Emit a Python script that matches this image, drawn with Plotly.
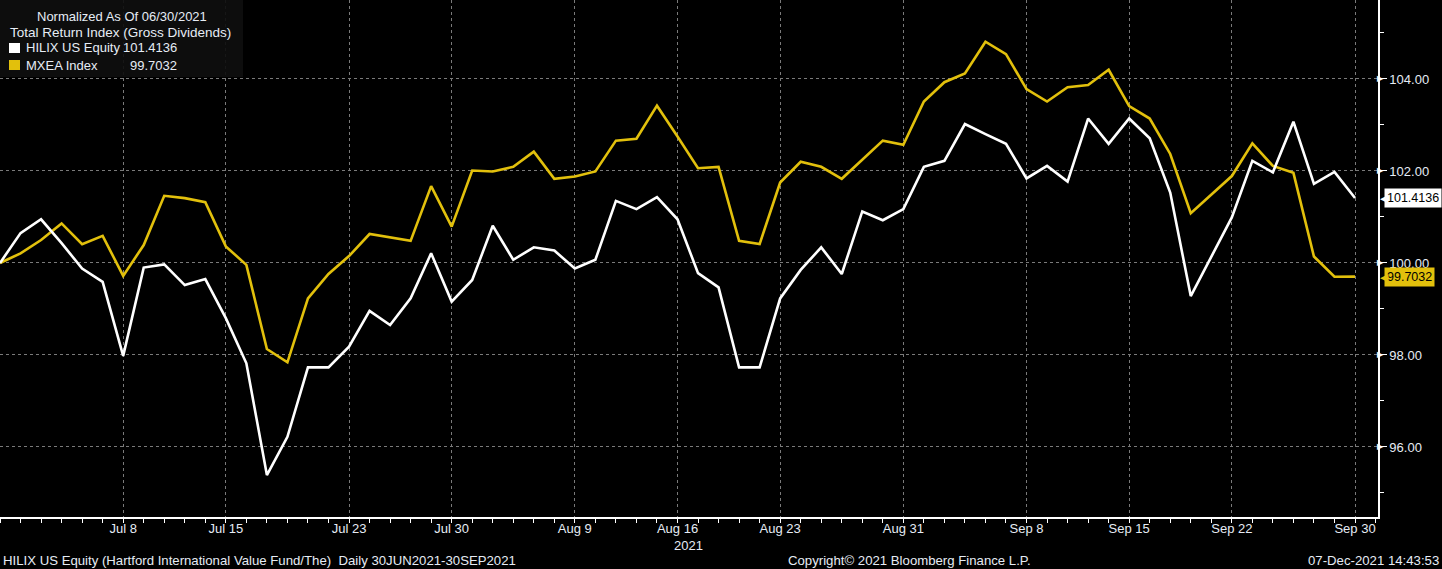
import pandas as pd
import plotly.graph_objects as go

# ---------------- data ----------------
dates = [d.strftime("%Y-%m-%d") for d in pd.bdate_range("2021-06-30", "2021-09-30")]

hilix = [100.00, 100.65, 100.95, 100.43, 99.88, 99.59, 97.98, 99.90, 99.97, 99.52,
         99.65, 98.80, 97.82, 95.39, 96.22, 97.73, 97.73, 98.18, 98.96, 98.65,
         99.23, 100.21, 99.16, 99.63, 100.81, 100.07, 100.34, 100.27, 99.88, 100.07,
         101.35, 101.17, 101.43, 100.95, 99.78, 99.47, 97.73, 97.73, 99.23, 99.85,
         100.34, 99.76, 101.12, 100.93, 101.17, 102.09, 102.22, 103.02, 102.80, 102.59,
         101.84, 102.11, 101.77, 103.14, 102.59, 103.14, 102.71, 101.53, 99.28, 100.14,
         100.99, 102.22, 101.97, 103.07, 101.72, 101.98, 101.4136]

mxea = [100.00, 100.21, 100.50, 100.86, 100.41, 100.59, 99.72, 100.39, 101.46, 101.41,
        101.32, 100.36, 99.96, 98.13, 97.84, 99.23, 99.76, 100.15, 100.63, 100.56,
        100.48, 101.67, 100.79, 102.01, 101.99, 102.09, 102.42, 101.83, 101.88, 101.99,
        102.66, 102.70, 103.42, 102.75, 102.06, 102.09, 100.48, 100.41, 101.75, 102.20,
        102.09, 101.83, 102.25, 102.66, 102.57, 103.51, 103.93, 104.12, 104.81, 104.54,
        103.78, 103.51, 103.82, 103.87, 104.20, 103.41, 103.14, 102.37, 101.08, 101.48,
        101.89, 102.60, 102.11, 101.96, 100.14, 99.70, 99.7032]

tick_dates = ["2021-07-08", "2021-07-15", "2021-07-23", "2021-07-30", "2021-08-09",
              "2021-08-16", "2021-08-23", "2021-08-31", "2021-09-08", "2021-09-15",
              "2021-09-22", "2021-09-30"]
tick_labels = ["Jul 8", "Jul 15", "Jul 23", "Jul 30", "Aug 9", "Aug 16", "Aug 23",
               "Aug 31", "Sep 8", "Sep 15", "Sep 22", "Sep 30"]
y_ticks = [96, 98, 100, 102, 104]

names = ["HILIX US Equity", "MXEA Index"]
last_labels = ["101.4136", "99.7032"]
colors = ["#ffffff", "#e2c00c"]

# ---------------- figure ----------------
W, H = 1442, 569
ML, MR, MT, MB = 0, 64, 0, 52
PW, PH = W - ML - MR, H - MT - MB

xpos = list(range(len(dates)))
tickvals = [dates.index(d) for d in tick_dates]

FONT = "Liberation Sans"
TXT = "#e6ecf5"

fig = go.Figure()
fig.add_trace(go.Scatter(x=xpos, y=mxea, mode="lines", name=names[1],
                         line=dict(color=colors[1], width=2.6), hoverinfo="skip"))
fig.add_trace(go.Scatter(x=xpos, y=hilix, mode="lines", name=names[0],
                         line=dict(color=colors[0], width=2.6), hoverinfo="skip"))

ann = []
# right axis triangles at major ticks
for v in y_ticks:
    ann.append(dict(xref="paper", yref="y", x=1, y=v, text="\u25B6", showarrow=False,
                    xanchor="left", xshift=-3, font=dict(color="#ffffff", size=8, family=FONT)))

# last-value labels
for val, lab, col in [(hilix[-1], last_labels[0], colors[0]), (mxea[-1], last_labels[1], colors[1])]:
    ann.append(dict(xref="paper", yref="y", x=1, y=val, text=lab, showarrow=False,
                    xanchor="left", xshift=6, bgcolor=col, borderpad=2,
                    font=dict(color="#000000", size=12.5, family=FONT)))
    ann.append(dict(xref="paper", yref="y", x=1, y=val, text="\u25C0", showarrow=False,
                    xanchor="left", xshift=0, font=dict(color=col, size=11, family=FONT)))

def px(xp):
    return (xp - ML) / PW

def py(yp):
    return 1 - (yp - MT) / PH

LF = 13
# legend box texts
ann.append(dict(xref="paper", yref="paper", x=px(122), y=py(16), text="Normalized As Of 06/30/2021",
                showarrow=False, xanchor="center", yanchor="middle",
                font=dict(color=TXT, size=LF, family=FONT)))
ann.append(dict(xref="paper", yref="paper", x=px(8), y=py(33), text="Total Return Index (Gross Dividends)",
                showarrow=False, xanchor="left", yanchor="middle",
                font=dict(color=TXT, size=13.5, family=FONT)))
for i, (nm, lab) in enumerate(zip(names, last_labels)):
    yy = 48 + i * 17
    ann.append(dict(xref="paper", yref="paper", x=px(24), y=py(yy), text=nm,
                    showarrow=False, xanchor="left", yanchor="middle",
                    font=dict(color=TXT, size=LF, family=FONT)))
    ann.append(dict(xref="paper", yref="paper", x=px(179), y=py(yy), text=lab,
                    showarrow=False, xanchor="right", yanchor="middle",
                    font=dict(color=TXT, size=LF, family=FONT)))

# year label
ann.append(dict(xref="x", yref="paper", x=dates.index("2021-08-16"), y=py(545), text="2021",
                showarrow=False, xanchor="center", yanchor="middle", xshift=11,
                font=dict(color=TXT, size=13, family=FONT)))
# footer
ann.append(dict(xref="paper", yref="paper", x=px(1), y=py(560),
                text="HILIX US Equity (Hartford International Value Fund/The)&nbsp;&nbsp;Daily 30JUN2021-30SEP2021",
                showarrow=False, xanchor="left", yanchor="middle",
                font=dict(color=TXT, size=13.2, family=FONT)))
ann.append(dict(xref="paper", yref="paper", x=px(909), y=py(560),
                text="Copyright\u00A9 2021 Bloomberg Finance L.P.",
                showarrow=False, xanchor="center", yanchor="middle",
                font=dict(color=TXT, size=13.2, family=FONT)))
ann.append(dict(xref="paper", yref="paper", x=px(1441), y=py(560),
                text="07-Dec-2021 14:43:53",
                showarrow=False, xanchor="right", yanchor="middle",
                font=dict(color=TXT, size=13.2, family=FONT)))

shapes = [
    dict(type="rect", xref="paper", yref="paper", x0=px(0), x1=px(243), y0=py(77), y1=py(0),
         fillcolor="rgba(14,14,14,0.92)", line=dict(width=0), layer="above"),
    dict(type="rect", xref="paper", yref="paper", x0=px(9), x1=px(20), y0=py(53), y1=py(43),
         fillcolor=colors[0], line=dict(width=0), layer="above"),
    dict(type="rect", xref="paper", yref="paper", x0=px(9), x1=px(20), y0=py(70), y1=py(60),
         fillcolor=colors[1], line=dict(width=0), layer="above"),
]

fig.update_layout(
    width=W, height=H,
    margin=dict(l=ML, r=MR, t=MT, b=MB),
    paper_bgcolor="#000000", plot_bgcolor="#000000",
    showlegend=False,
    annotations=ann,
    shapes=shapes,
    xaxis=dict(
        range=[0, 67.12], tickmode="array", tickvals=tickvals, ticktext=tick_labels,
        showgrid=True, gridcolor="#7a7a7a", griddash="dot", gridwidth=1,
        showline=True, linecolor="#ffffff", linewidth=1.5,
        ticks="outside", ticklen=4, tickcolor="#ffffff",
        ticklabelstandoff=-5,
        tickfont=dict(color=TXT, size=13, family=FONT),
        minor=dict(dtick=1, tick0=0, ticks="outside", ticklen=4, tickcolor="#ffffff", showgrid=False),
        zeroline=False, fixedrange=True,
    ),
    yaxis=dict(
        side="right", range=[94.478, 105.717], tickmode="array", tickvals=y_ticks,
        ticktext=[f"{v:.2f}" for v in y_ticks],
        showgrid=True, gridcolor="#7a7a7a", griddash="dot", gridwidth=1,
        showline=True, linecolor="#ffffff", linewidth=1.5,
        ticks="outside", ticklen=7, tickcolor="#ffffff",
        tickfont=dict(color=TXT, size=13, family=FONT),
        minor=dict(dtick=1, tick0=95, ticks="outside", ticklen=4, tickcolor="#ffffff", showgrid=False),
        zeroline=False, fixedrange=True,
    ),
)

fig.write_html("out.html")
